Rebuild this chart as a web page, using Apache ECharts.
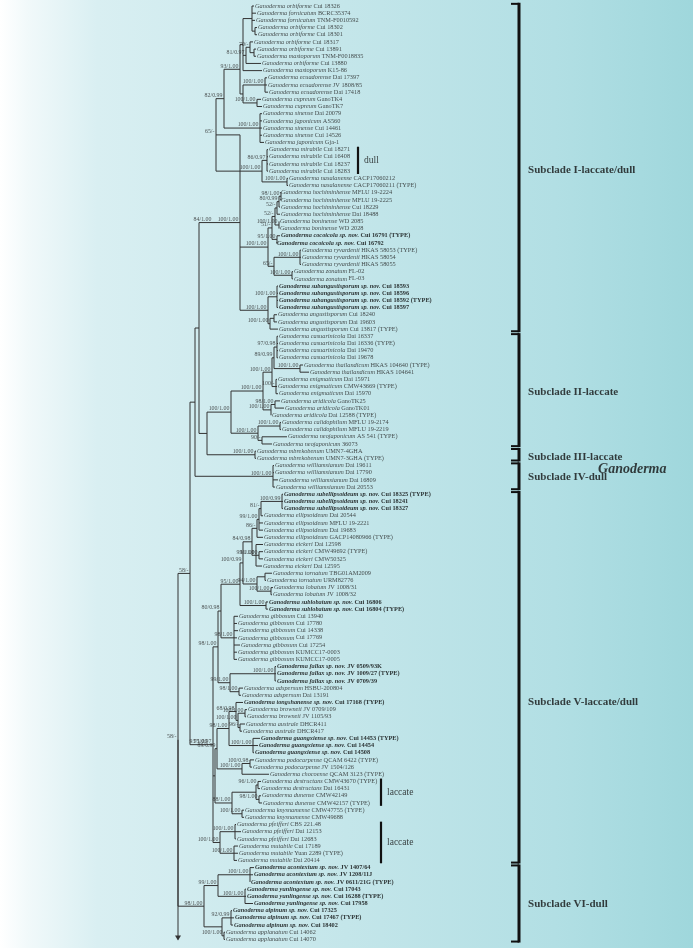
<!DOCTYPE html>
<html>
<head>
<meta charset="utf-8">
<script src="https://cdn.jsdelivr.net/npm/echarts@6/dist/echarts.min.js"></script>
<style>
  html, body { margin: 0; padding: 0; }
  #main { width: 693px; height: 948px; }
</style>
</head>
<body>
<div id="main"></div>
<script>
// ---- leaves (top to bottom): [species, voucher] ----
const leaves = [
  ['orbiforme', 'Cui 18326'], ['fornicatum', 'BCRC35374'], ['fornicatum', 'TNM-F0010592'],
  ['orbiforme', 'Cui 18302'], ['orbiforme', 'Cui 18301'], ['orbiforme', 'Cui 18317'],
  ['orbiforme', 'Cui 13891'], ['mastoporum', 'TNM-F0018835'], ['orbiforme', 'Cui 13880'],
  ['mastoporum', 'K15-86'], ['ecuadorense', 'Dai 17397'], ['ecuadorense', 'JV 1808/85'],
  ['ecuadorense', 'Dai 17418'], ['cupreum', 'GanoTK4'], ['cupreum', 'GanoTK7'],
  ['sinense', 'Dai 20079'], ['japonicum', 'AS560'], ['sinense', 'Cui 14461'],
  ['sinense', 'Cui 14526'], ['japonicum', 'Gja-1'], ['mirabile', 'Cui 18271'],
  ['mirabile', 'Cui 16408'], ['mirabile', 'Cui 18237'], ['mirabile', 'Cui 18283'],
  ['nasalanense', 'CACP17060212'], ['nasalanense', 'CACP17060211 (TYPE)'],
  ['hochiminhense', 'MFLU 19-2224'], ['hochiminhense', 'MFLU 19-2225'],
  ['hochiminhense', 'Cui 18229'], ['hochiminhense', 'Dai 18488'],
  ['boninense', 'WD 2085'], ['boninense', 'WD 2028'],
  ['cocoicola sp. nov.', 'Cui 16791 (TYPE)'], ['cocoicola sp. nov.', 'Cui 16792'],
  ['ryvardenii', 'HKAS 58053 (TYPE)'], ['ryvardenii', 'HKAS 58054'], ['ryvardenii', 'HKAS 58055'],
  ['zonatum', 'FL-02'], ['zonatum', 'FL-03'],
  ['subangustisporum sp. nov.', 'Cui 18593'], ['subangustisporum sp. nov.', 'Cui 18596'],
  ['subangustisporum sp. nov.', 'Cui 18592 (TYPE)'], ['subangustisporum sp. nov.', 'Cui 18597'],
  ['angustisporum', 'Cui 18240'], ['angustisporum', 'Dai 19603'], ['angustisporum', 'Cui 13817 (TYPE)'],
  ['casuarinicola', 'Dai 16337'], ['casuarinicola', 'Dai 16336 (TYPE)'],
  ['casuarinicola', 'Dai 19470'], ['casuarinicola', 'Dai 19678'],
  ['thailandicum', 'HKAS 104640 (TYPE)'], ['thailandicum', 'HKAS 104641'],
  ['enigmaticum', 'Dai 15971'], ['enigmaticum', 'CMW43669 (TYPE)'], ['enigmaticum', 'Dai 15970'],
  ['aridicola', 'GanoTK25'], ['aridicola', 'GanoTK01'], ['aridicola', 'Dai 12588 (TYPE)'],
  ['calidophilum', 'MFLU 19-2174'], ['calidophilum', 'MFLU 19-2219'],
  ['neojaponicum', 'AS 541 (TYPE)'], ['neojaponicum', '36073'],
  ['mbrekobenum', 'UMN7-4GHA'], ['mbrekobenum', 'UMN7-3GHA (TYPE)'],
  ['williamsianum', 'Dai 19611'], ['williamsianum', 'Dai 17790'],
  ['williamsianum', 'Dai 16809'], ['williamsianum', 'Dai 20553'],
  ['subellipsoideum sp. nov.', 'Cui 18325 (TYPE)'], ['subellipsoideum sp. nov.', 'Cui 18241'],
  ['subellipsoideum sp. nov.', 'Cui 18327'],
  ['ellipsoideum', 'Dai 20544'], ['ellipsoideum', 'MFLU 19-2221'], ['ellipsoideum', 'Dai 19683'],
  ['ellipsoideum', 'GACP14080966 (TYPE)'],
  ['eickeri', 'Dai 12598'], ['eickeri', 'CMW49692 (TYPE)'], ['eickeri', 'CMW50325'], ['eickeri', 'Dai 12595'],
  ['tornatum', 'TBG01AM2009'], ['tornatum', 'URM82776'],
  ['lobatum', 'JV 1008/31'], ['lobatum', 'JV 1008/32'],
  ['sublobatum sp. nov.', 'Cui 16806'], ['sublobatum sp. nov.', 'Cui 16804 (TYPE)'],
  ['gibbosum', 'Cui 13940'], ['gibbosum', 'Cui 17780'], ['gibbosum', 'Cui 14338'],
  ['gibbosum', 'Cui 17769'], ['gibbosum', 'Cui 17254'], ['gibbosum', 'KUMCC17-0003'],
  ['gibbosum', 'KUMCC17-0005'],
  ['fallax sp. nov.', 'JV 0509/93K'], ['fallax sp. nov.', 'JV 1009/27 (TYPE)'], ['fallax sp. nov.', 'JV 0709/39'],
  ['adspersum', 'HSBU-200804'], ['adspersum', 'Dai 13191'],
  ['tongshanense sp. nov.', 'Cui 17168 (TYPE)'],
  ['browneii', 'JV 0709/109'], ['browneii', 'JV 1105/93'],
  ['australe', 'DHCR411'], ['australe', 'DHCR417'],
  ['guangxiense sp. nov.', 'Cui 14453 (TYPE)'], ['guangxiense sp. nov.', 'Cui 14454'],
  ['guangxiense sp. nov.', 'Cui 14508'],
  ['podocarpense', 'QCAM 6422 (TYPE)'], ['podocarpense', 'JV 1504/126'],
  ['chocoense', 'QCAM 3123 (TYPE)'],
  ['destructans', 'CMW43670 (TYPE)'], ['destructans', 'Dai 16431'],
  ['dunense', 'CMW42149'], ['dunense', 'CMW42157 (TYPE)'],
  ['knysnamense', 'CMW47755 (TYPE)'], ['knysnamense', 'CMW49688'],
  ['pfeifferi', 'CBS 221.48'], ['pfeifferi', 'Dai 12153'], ['pfeifferi', 'Dai 12683'],
  ['mutabile', 'Cui 17189'], ['mutabile', 'Yuan 2289 (TYPE)'], ['mutabile', 'Dai 20414'],
  ['acontextum sp. nov.', 'JV 1407/64'], ['acontextum sp. nov.', 'JV 1208/11J'],
  ['acontextum sp. nov.', 'JV 0611/21G (TYPE)'],
  ['yunlingense sp. nov.', 'Cui 17043'], ['yunlingense sp. nov.', 'Cui 16288 (TYPE)'],
  ['yunlingense sp. nov.', 'Cui 17958'],
  ['alpinum sp. nov.', 'Cui 17325'], ['alpinum sp. nov.', 'Cui 17467 (TYPE)'], ['alpinum sp. nov.', 'Cui 18402'],
  ['applanatum', 'Cui 14062'], ['applanatum', 'Cui 14070']
];

// branch tip position of every leaf (same order as leaves)
const tipX = [
  254, 256, 255, 257, 257, 253, 256, 256, 261, 262,
  267, 267, 268, 261, 262, 262, 262, 262, 262, 264,
  268, 268, 268, 268, 288, 288, 280, 280, 280, 280,
  279, 279, 280, 276, 301, 301, 301, 293, 293, 278,
  278, 278, 278, 277, 277, 278, 278, 278, 278, 278,
  303, 309, 277, 277, 278, 280, 284, 271, 281, 281,
  287, 272, 256, 256, 274, 274, 278, 275, 283, 283,
  283, 263, 263, 263, 263, 263, 263, 263, 262, 272,
  266, 273, 272, 268, 268, 238, 237, 238, 237, 240,
  237, 237, 276, 276, 276, 243, 241, 243, 247, 246,
  245, 242, 260, 258, 254, 254, 252, 269, 261, 260,
  261, 262, 244, 244, 236, 241, 236, 238, 238, 237,
  254, 253, 250, 246, 246, 253, 232, 234, 233, 225,
  225
];

// topology: (children)nodeX'support'
const cladeI =
  "((((((0,1,2,(3,4)255)252,((5,(6,7)254)250'70/-',8)246'81/0.97',9)243," +
  "((10,11,12)265'100/1.00',(13,14)257'100/1.00')243)240'93/1.00'," +
  "(15,16,17,18,19)260'100/1.00')224'82/0.99'," +
  "((20,21,22,23)267'86/0.97',(24,25)287'100/1.00')262'100/1.00')216'65/-'," +
  "((((((26,27)281'98/1.00',28)279'80/0.99',29)277'52/-',(30,31)279'100/1.00')275'52/-'," +
  "(32,33)277'95/1.00')272'51/-'," +
  "((34,35,36)300'100/1.00',(37,38)292'100/1.00')274'65/-')268'100/1.00'," +
  "((39,40,41,42)277'100/1.00',((43,44)274,45)270'100/1.00')268'100/1.00')240'100/1.00')213'84/1.00'";
const cladeII =
  "(((((46,47,48,49)277'97/0.98',(50,51)300'100/1.00')274'89/0.99',(52,53,54)276'100/-')272'100/1.00'," +
  "((55,56)275'98/1.00',57)271'100/1.00')263'100/1.00'," +
  "((58,59)280'100/1.00',(60,61)262'90/-')258'100/1.00')231'100/1.00'";
const cladeIII = "(62,63)255'100/1.00'";
const cladeIV = "(64,65,66,67)273'100/1.00'";
const cladeVa =
  "((((((((((68,69,70)282'100/0.99',71)261'81/-',72,73)259'99/1.00',74)257'86/-'," +
  "(75,(76,77)259'91/1.00',78)256'93/1.00')252'84/0.98'," +
  "((79,80)265,(81,82)271'100/1.00')257'94/1.00')243'100/0.99'," +
  "(83,84)266'100/1.00')240'95/1.00'," +
  "(85,86,87,88,89,90,91)234'98/1.00')221'80/0.98'," +
  "((92,93,94)275'100/1.00',(95,96)239'98/1.00')230'99/1.00')218'98/1.00'";
const cladeVb =
  "((((97,((98,99)245'100/1.00',(100,101)240'96/-')238'100/1.00')236'68/0.98'," +
  "(102,103,104)253'100/1.00')229'98/1.00',((105,106)250'100/0.98',107)242'100/1.00')217'89/0.99'," +
  "(((108,109)258'96/1.00',(110,111)259'98/1.00')256,(112,113)242'100/1.00')232'88/1.00')215," +
  "((114,115,116)235'100/1.00',(117,118,119)234'100/1.00')220'100/1.00')213'75/0.97'";
const cladeVI =
  "(((120,121,122)250'100/1.00',(123,124,125)245'100/1.00')218'99/1.00'," +
  "((126,127,128)231'92/0.99',(129,130)224'100/1.00')222)204'98/1.00'";
const treeNewick =
  `(((((${cladeI},(${cladeII},${cladeIII})207)199,${cladeIV})195,` +
  `(${cladeVa},${cladeVb})209'93/1.00')190'58/-',${cladeVI})178'58/-')168`;
const outgroupTo = 130;

// subclade brackets
const cladeNames = ['Subclade I-laccate/dull', 'Subclade II-laccate', 'Subclade III-laccate',
  'Subclade IV-dull', 'Subclade V-laccate/dull', 'Subclade VI-dull'];
const cladeFrom = [0, 46, 62, 64, 68, 120];
const cladeTo = [45, 61, 63, 67, 119, 130];
const cladeLabelAt = [22.8, 53.8, 62.8, 65.6, 96.9, 125.1];

// trait bars
const traitNames = ['dull', 'laccate', 'laccate'];
const traitFrom = [20, 108, 114];
const traitTo = [23, 111, 119];

const genusName = 'Ganoderma';

// ---- layout ----
function parseTree(s) {
  s = s.replace(/\s+/g, '');
  let i = 0;
  function node() {
    if (s[i] === '(') {
      i++;
      const kids = [];
      while (true) {
        kids.push(node());
        if (s[i] === ',') { i++; continue; }
        i++; // ')'
        break;
      }
      let num = '';
      while (i < s.length && /[0-9.]/.test(s[i])) num += s[i++];
      let lab = '';
      if (s[i] === "'") { i++; while (s[i] !== "'") lab += s[i++]; i++; }
      return { kids: kids, x: +num, lab: lab };
    }
    let num = '';
    while (/[0-9]/.test(s[i])) num += s[i++];
    return { leaf: +num };
  }
  return node();
}

const root = parseTree(treeNewick);
const segs = [];
const supports = [];
function place(n) {
  if (!n.kids) { n.x = tipX[n.leaf]; n.y = n.leaf; return; }
  n.kids.forEach(place);
  const a = n.kids[0], b = n.kids[n.kids.length - 1];
  n.y = (a.y + b.y) / 2;
  if (n.kids.length > 1) segs.push([n.x, a.y, n.x, b.y, 0]);
  n.kids.forEach(c => segs.push([n.x, c.y, c.x, c.y, 0]));
  if (n.lab) supports.push([n.x, n.y, n.lab]);
}
place(root);
segs.push([root.x, root.y, root.x, outgroupTo, 1]);

const SERIF = 'Liberation Serif';
const INK = '#1e1e1e';
const LEAF_FS = 6.3;

const leafData = leaves.map((l, i) => ({
  value: [tipX[i], i],
  bold: l[0].indexOf('sp. nov.') >= 0
}));

const bracketX = 519;
const bracketData = cladeFrom.map((f, i) => [bracketX, f - 0.3, cladeTo[i] + 0.3]);
const traitX = [358, 381, 381];
const traitData = traitFrom.map((f, i) => [traitX[i], f - 0.4, traitTo[i] + 0.4]);

const chart = echarts.init(document.getElementById('main'));
chart.setOption({
  animation: false,
  graphic: [{
    type: 'rect', z: -10, silent: true,
    shape: { x: 0, y: 0, width: 693, height: 948 },
    style: {
      fill: new echarts.graphic.LinearGradient(0, 0, 1, 0, [
        { offset: 0, color: '#ffffff' },
        { offset: 0.04, color: '#f1f9fa' },
        { offset: 0.14, color: '#d9eff2' },
        { offset: 0.5, color: '#c4e6ea' },
        { offset: 0.8, color: '#b2dfe4' },
        { offset: 1, color: '#9fd7dc' }
      ])
    }
  }],
  grid: { left: 0, right: 0, top: 6, bottom: 8.6 },
  xAxis: { type: 'value', min: 0, max: 693, show: false },
  yAxis: { type: 'value', min: 0, max: 130, inverse: true, show: false },
  series: [
    {
      type: 'custom',
      silent: true,
      data: segs,
      encode: { x: [0, 2], y: [1, 3] },
      renderItem: function (params, api) {
        const p1 = api.coord([api.value(0), api.value(1)]);
        const p2 = api.coord([api.value(2), api.value(3)]);
        const line = {
          type: 'line',
          shape: { x1: p1[0], y1: p1[1], x2: p2[0], y2: p2[1] },
          style: { stroke: '#333', lineWidth: 1 }
        };
        if (api.value(4) !== 1) return line;
        return {
          type: 'group',
          children: [line, {
            type: 'polygon',
            shape: { points: [[p2[0] - 3, p2[1] - 4], [p2[0] + 3, p2[1] - 4], [p2[0], p2[1] + 1]] },
            style: { fill: '#333' }
          }]
        };
      }
    },
    {
      type: 'scatter',
      silent: true,
      symbolSize: 0.1,
      itemStyle: { color: 'transparent' },
      data: leafData,
      label: {
        show: true,
        position: 'right',
        distance: 1,
        formatter: function (p) {
          const l = leaves[p.dataIndex];
          return p.data.bold
            ? '{sb|Ganoderma ' + l[0] + ' }{vb|' + l[1] + '}'
            : '{s|Ganoderma ' + l[0] + ' }{v|' + l[1] + '}';
        },
        rich: {
          s: { fontFamily: SERIF, fontSize: LEAF_FS, fontStyle: 'italic', color: INK, lineHeight: 7 },
          v: { fontFamily: SERIF, fontSize: LEAF_FS, color: INK, lineHeight: 7 },
          sb: { fontFamily: SERIF, fontSize: LEAF_FS, fontStyle: 'italic', fontWeight: 'bold', color: '#000', lineHeight: 7 },
          vb: { fontFamily: SERIF, fontSize: LEAF_FS, fontWeight: 'bold', color: '#000', lineHeight: 7 }
        }
      }
    },
    {
      type: 'scatter',
      silent: true,
      symbolSize: 0.1,
      itemStyle: { color: 'transparent' },
      data: supports.map(s => ({ value: [s[0], s[1]], name: s[2] })),
      label: {
        show: true,
        position: 'left',
        distance: 1.5,
        offset: [0, -3.2],
        formatter: '{b}',
        fontFamily: SERIF,
        fontSize: 5.9,
        color: '#2a2a2a'
      }
    },
    {
      type: 'custom',
      silent: true,
      data: bracketData,
      encode: { x: 0, y: [1, 2] },
      renderItem: function (params, api) {
        const a = api.coord([api.value(0), api.value(1)]);
        const b = api.coord([api.value(0), api.value(2)]);
        return {
          type: 'group',
          children: [
            { type: 'line', shape: { x1: a[0], y1: a[1] - 1, x2: a[0], y2: b[1] + 1 },
              style: { stroke: '#111', lineWidth: 3 } },
            { type: 'line', shape: { x1: a[0] - 8, y1: a[1], x2: a[0], y2: a[1] },
              style: { stroke: '#111', lineWidth: 2 } },
            { type: 'line', shape: { x1: b[0] - 8, y1: b[1], x2: b[0], y2: b[1] },
              style: { stroke: '#111', lineWidth: 2 } }
          ]
        };
      }
    },
    {
      type: 'custom',
      silent: true,
      data: traitData,
      encode: { x: 0, y: [1, 2] },
      renderItem: function (params, api) {
        const a = api.coord([api.value(0), api.value(1)]);
        const b = api.coord([api.value(0), api.value(2)]);
        return {
          type: 'line',
          shape: { x1: a[0], y1: a[1], x2: b[0], y2: b[1] },
          style: { stroke: '#111', lineWidth: 2.2 }
        };
      }
    },
    {
      type: 'scatter',
      silent: true,
      symbolSize: 0.1,
      itemStyle: { color: 'transparent' },
      data: traitNames.map((t, i) => ({ value: [traitX[i], (traitFrom[i] + traitTo[i]) / 2], name: t })),
      label: {
        show: true, position: 'right', distance: 6, formatter: '{b}',
        fontFamily: SERIF, fontSize: 9.5, color: '#111'
      }
    },
    {
      type: 'scatter',
      silent: true,
      symbolSize: 0.1,
      itemStyle: { color: 'transparent' },
      data: cladeNames.map((c, i) => ({ value: [bracketX, cladeLabelAt[i]], name: c })),
      label: {
        show: true, position: 'right', distance: 9, formatter: '{b}',
        fontFamily: SERIF, fontSize: 11, fontWeight: 'bold', color: '#111'
      }
    },
    {
      type: 'scatter',
      silent: true,
      symbolSize: 0.1,
      itemStyle: { color: 'transparent' },
      data: [{ value: [598, 64.6], name: genusName }],
      label: {
        show: true, position: 'right', distance: 0, formatter: '{b}',
        fontFamily: SERIF, fontSize: 14, fontWeight: 'bold', fontStyle: 'italic', color: '#111'
      }
    }
  ]
});
</script>
</body>
</html>
